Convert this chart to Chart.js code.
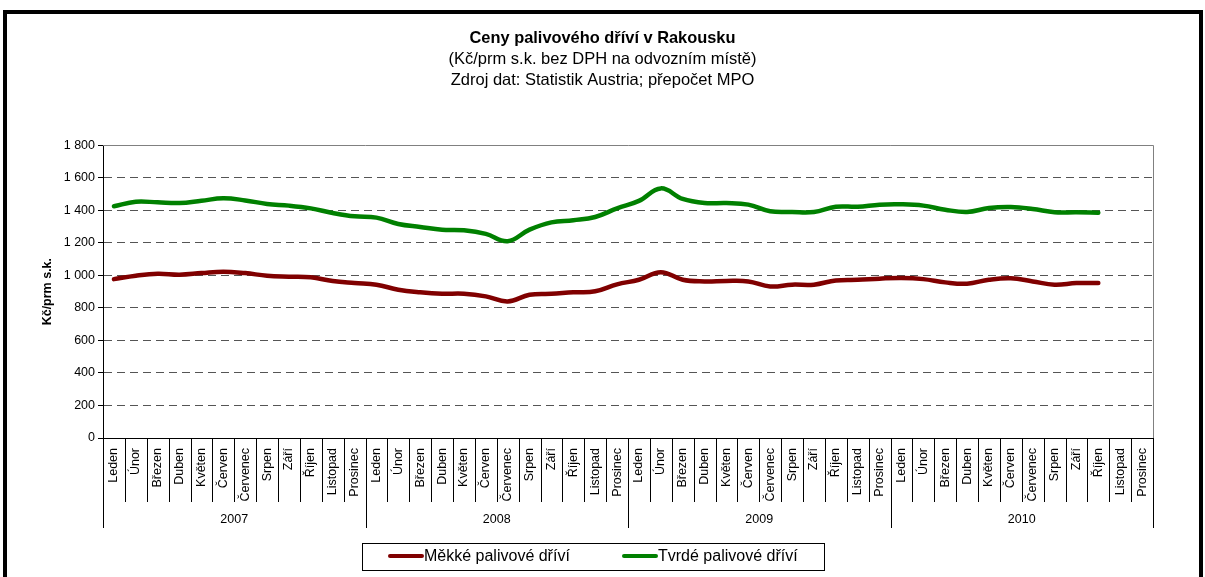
<!DOCTYPE html>
<html><head><meta charset="utf-8">
<script src="https://cdn.jsdelivr.net/npm/chart.js@4.4.1/dist/chart.umd.min.js"></script>
<style>html,body{margin:0;padding:0;background:#fff;} canvas{display:block;}</style>
</head><body>
<canvas id="c" width="1205" height="577"></canvas>
<script>
const months = ['Leden','Únor','Březen','Duben','Květen','Červen','Červenec','Srpen','Září','Říjen','Listopad','Prosinec'];
const years = ['2007','2008','2009','2010'];
const seriesNames = ['Měkké palivové dříví','Tvrdé palivové dříví'];
const softWood = [977, 998, 1010, 1004, 1014, 1023, 1014, 998, 992, 988, 965, 953,
                  943, 912, 896, 887, 887, 871, 840, 881, 887, 896, 902, 945,
                  973, 1020, 973, 963, 966, 963, 932, 943, 943, 969, 973, 980,
                  984, 977, 957, 949, 973, 982, 963, 943, 953, 953];
const hardWood = [1425, 1453, 1449, 1445, 1459, 1474, 1461, 1439, 1429, 1412, 1384, 1363,
                  1355, 1316, 1298, 1281, 1277, 1255, 1210, 1281, 1326, 1339, 1359, 1412,
                  1458, 1535, 1470, 1445, 1445, 1435, 1394, 1390, 1390, 1422, 1422, 1435,
                  1437, 1429, 1404, 1390, 1414, 1420, 1408, 1388, 1388, 1385];
const yMin = 0, yMax = 1800, yStep = 200;
const titleText = 'Ceny palivového dříví v Rakousku';
const subtitleLines = ['(Kč/prm s.k. bez DPH na odvozním místě)', 'Zdroj dat: Statistik Austria; přepočet MPO'];
const yTitle = 'Kč/prm s.k.';
const colors = ['#800000', '#008000'];

const categories = [];
years.forEach(() => months.forEach(m => categories.push(m)));

const FONT = '"Liberation Sans", Arial, Helvetica, sans-serif';

const deco = {
  id: 'deco',
  beforeDraw(chart) {
    const ctx = chart.ctx;
    ctx.save();
    ctx.fillStyle = '#fff';
    ctx.fillRect(0, 0, chart.width, chart.height);
    ctx.fillStyle = '#000';
    ctx.fillRect(3, 10, 4, 567);
    ctx.fillRect(3, 10, 1200, 4);
    ctx.fillRect(1199, 10, 4, 567);
    ctx.restore();
  },
  beforeDatasetsDraw(chart) {
    const {ctx, chartArea: a} = chart;
    ctx.save();
    ctx.strokeStyle = '#808080';
    ctx.lineWidth = 1;
    ctx.beginPath();
    ctx.moveTo(a.left, Math.round(a.top) + 0.5);
    ctx.lineTo(Math.round(a.right) + 0.5, Math.round(a.top) + 0.5);
    ctx.lineTo(Math.round(a.right) + 0.5, a.bottom);
    ctx.stroke();
    ctx.restore();
  },
  afterDraw(chart) {
    const {ctx, chartArea: a} = chart;
    const xs = chart.scales.x;
    const n = categories.length;
    const half = (xs.getPixelForValue(1) - xs.getPixelForValue(0)) / 2;
    const base = a.bottom;
    ctx.save();
    ctx.strokeStyle = '#000';
    ctx.lineWidth = 1;
    for (let i = 0; i <= n; i++) {
      const bx = i < n ? xs.getPixelForValue(i) - half : xs.getPixelForValue(n - 1) + half;
      const px = Math.round(bx) + 0.5;
      const long = (i % months.length === 0);
      ctx.beginPath();
      ctx.moveTo(px, base);
      ctx.lineTo(px, base + (long ? 90 : 64));
      ctx.stroke();
    }
    ctx.fillStyle = '#000';
    ctx.font = '12.5px ' + FONT;
    ctx.textAlign = 'center';
    ctx.textBaseline = 'middle';
    years.forEach((y, k) => {
      const x0 = xs.getPixelForValue(k * 12) - half;
      const x1 = xs.getPixelForValue(k * 12 + 11) + half;
      ctx.fillText(y, (x0 + x1) / 2, base + 82);
    });
    // legend
    ctx.strokeStyle = '#000';
    ctx.lineWidth = 1;
    ctx.strokeRect(362.5, 543.5, 462, 27);
    const items = [{x: 390, tx: 424}, {x: 624, tx: 658}];
    ctx.font = '16px ' + FONT;
    ctx.textAlign = 'left';
    items.forEach((it, k) => {
      ctx.strokeStyle = colors[k];
      ctx.lineWidth = 4;
      ctx.lineCap = 'round';
      ctx.beginPath();
      ctx.moveTo(it.x, 556);
      ctx.lineTo(it.x + 32, 556);
      ctx.stroke();
      ctx.fillStyle = '#000';
      ctx.fillText(seriesNames[k], it.tx, 557);
    });
    ctx.restore();
  }
};

new Chart(document.getElementById('c'), {
  type: 'line',
  data: {
    labels: categories,
    datasets: [
      {label: seriesNames[0], data: softWood, borderColor: colors[0], backgroundColor: colors[0], borderWidth: 4.5, pointRadius: 0, tension: 0.4, borderCapStyle: 'round', borderJoinStyle: 'round', fill: false},
      {label: seriesNames[1], data: hardWood, borderColor: colors[1], backgroundColor: colors[1], borderWidth: 4.5, pointRadius: 0, tension: 0.4, borderCapStyle: 'round', borderJoinStyle: 'round', fill: false}
    ]
  },
  options: {
    responsive: false,
    animation: false,
    devicePixelRatio: 1,
    layout: {padding: {top: 0, left: 0, right: 0, bottom: 0}},
    plugins: {
      legend: {display: false},
      tooltip: {enabled: false},
      title: {display: true, text: titleText, color: '#000', font: {family: FONT, size: 16.4, weight: 'bold', lineHeight: 1.2}, padding: {top: 28.2, bottom: 0}},
      subtitle: {display: true, text: subtitleLines, color: '#000', font: {family: FONT, size: 16.5, weight: 'normal', lineHeight: 1.27}, padding: {top: 1, bottom: 54.5}}
    },
    scales: {
      x: {
        offset: true,
        grid: {display: false, drawTicks: false},
        border: {display: true, color: '#000', width: 1},
        ticks: {autoSkip: false, maxRotation: 90, minRotation: 90, padding: 10, color: '#000', font: {family: FONT, size: 12.5}},
        afterFit(s) { s.height = 139; }
      },
      y: {
        min: yMin, max: yMax,
        afterFit(s) { s.width = 103; },
        border: {display: true, color: '#000', width: 1, dash: [8, 5]},
        grid: {
          color: (c) => (c.tick && c.tick.value === yMax) ? 'rgba(0,0,0,0)' : '#555',
          lineWidth: 1,
          tickLength: 5,
          tickColor: '#000',
          tickBorderDash: [10, 0]
        },
        ticks: {
          stepSize: yStep, padding: 3, color: '#000', font: {family: FONT, size: 12.5},
          callback: (v) => String(v).replace(/\B(?=(\d{3})+(?!\d))/g, ' ')
        },
        title: {display: true, text: yTitle, color: '#000', font: {family: FONT, size: 12.5, weight: 'bold', lineHeight: 1.2}, padding: {top: 40.5, bottom: 0}}
      },
      yRight: {
        position: 'right',
        min: yMin, max: yMax,
        display: true,
        grid: {display: false, drawTicks: false},
        border: {display: false},
        ticks: {display: false},
        afterFit(s) { s.width = 52; }
      }
    }
  },
  plugins: [deco]
});
</script>
</body></html>
